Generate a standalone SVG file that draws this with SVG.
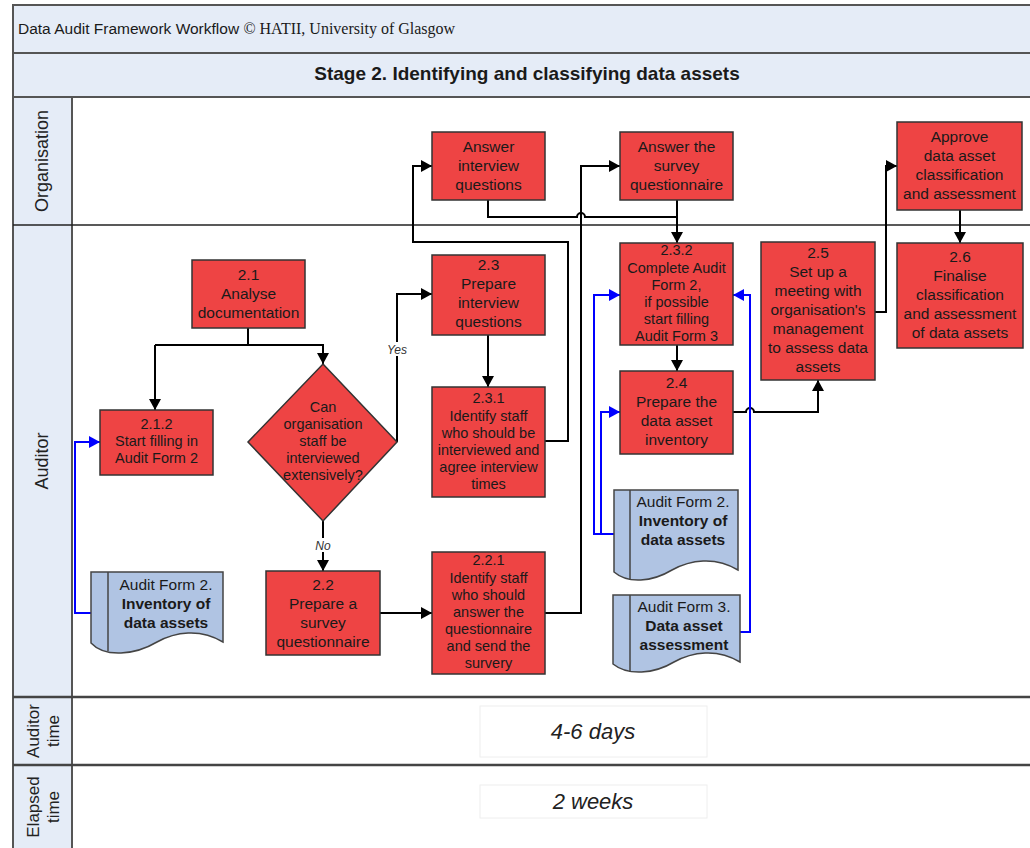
<svg xmlns="http://www.w3.org/2000/svg" width="1030" height="848" viewBox="0 0 1030 848">
<style>
.band{fill:#e5ecf7;stroke:#555;stroke-width:2}
.sep{stroke:#222;stroke-width:1.6;fill:none}
.sepd{stroke:#444;stroke-width:2.4;fill:none}
.n rect,.n polygon{fill:#ee4444;stroke:#333;stroke-width:1.5}
.d path{fill:#b0c4e3;stroke:#444;stroke-width:1.5}
.d line{stroke:#444;stroke-width:1.5}
text{font-family:"Liberation Sans",Arial,sans-serif;fill:#1a1a1a}
.t{font-size:15.5px;text-anchor:middle}
.s{font-size:14.5px;text-anchor:middle}
.b{font-weight:bold}
.c{fill:none;stroke:#000;stroke-width:2;marker-end:url(#ah)}
.cn{fill:none;stroke:#000;stroke-width:2}
.cb{fill:none;stroke:#0000ff;stroke-width:2;marker-end:url(#ab)}
.lbl{font-size:18px;text-anchor:middle;fill:#222}
.yn{font-size:12px;font-style:italic;text-anchor:middle;fill:#333}
.tm{font-size:22px;font-style:italic;text-anchor:middle;fill:#222}
</style>
<defs>
<marker id="ah" markerUnits="userSpaceOnUse" markerWidth="12" markerHeight="12" refX="11" refY="6" orient="auto"><path d="M0,0 L11,6 L0,12 z" fill="#000"/></marker>
<marker id="ab" markerUnits="userSpaceOnUse" markerWidth="12" markerHeight="12" refX="11" refY="6" orient="auto"><path d="M0,0 L11,6 L0,12 z" fill="#0000ff"/></marker>
</defs>
<rect width="1030" height="848" fill="#fff"/>
<!-- header bands -->
<rect class="band" x="13" y="5" width="1030" height="48"/>
<rect class="band" x="13" y="53" width="1030" height="44"/>
<text x="18" y="34" style="font-size:15.5px">Data Audit Framework Workflow <tspan style="font-family:'Liberation Serif','Times New Roman',serif;font-size:16px">© HATII, University of Glasgow</tspan></text>
<text x="527" y="80" class="b" style="font-size:19px;text-anchor:middle">Stage 2. Identifying and classifying data assets</text>
<!-- lane label column -->
<rect x="13" y="97" width="59" height="760" fill="#e5ecf7" stroke="#555" stroke-width="2"/>
<line class="sep" x1="13" y1="225" x2="1030" y2="225"/>
<line class="sepd" x1="13" y1="697" x2="1030" y2="697"/>
<line class="sepd" x1="13" y1="765" x2="1030" y2="765"/>
<text class="lbl" transform="translate(48,161) rotate(-90)">Organisation</text>
<text class="lbl" transform="translate(48,461) rotate(-90)">Auditor</text>
<text class="lbl" transform="translate(39,731) rotate(-90)" style="font-size:17px">Auditor</text>
<text class="lbl" transform="translate(59,731) rotate(-90)" style="font-size:17px">time</text>
<text class="lbl" transform="translate(39,807) rotate(-90)" style="font-size:17px">Elapsed</text>
<text class="lbl" transform="translate(59,807) rotate(-90)" style="font-size:17px">time</text>
<!-- time boxes -->
<g id="auditor-time"><rect x="480" y="706" width="227" height="51" fill="#fff" stroke="#eee"/><text class="tm" x="593" y="739">4-6 days</text></g>
<g id="elapsed-time"><rect x="480" y="785" width="227" height="33" fill="#fff" stroke="#eee"/><text class="tm" x="593" y="809">2 weeks</text></g>
<!-- connectors -->
<g id="connectors">
<path class="cn" d="M248,328 V345 H155"/>
<path class="c" d="M155,345 V410"/>
<path class="c" d="M248,345 H323 V364"/>
<path class="c" d="M397,442 V294 H432"/>
<path class="c" d="M323,521 V571"/>
<path class="c" d="M488,335 V387"/>
<path class="c" d="M545,441 H568 V242 H413 V166 H432"/>
<path class="c" d="M380,613 H432"/>
<path class="c" d="M545,613 H581 V166 H620"/>
<path class="cn" d="M488,200 V217 H577 A4,4 0 0 1 585,217 H677"/>
<path class="c" d="M677,200 V243"/>
<path class="c" d="M677,345 V371"/>
<path class="c" d="M733,412 H746 A4,4 0 0 1 754,412 H818 V380"/>
<path class="c" d="M875,312 H886 V166 H897"/>
<path class="c" d="M960,210 V243"/>
<path class="cb" d="M91,613 H75 V442 H100"/>
<path class="cb" d="M614,534 H594 V295 H620"/>
<path class="cb" d="M601,534 V412 H620"/>
<path class="cb" d="M740,632 H750 V295 H733"/>
<rect x="386" y="342" width="22" height="14" fill="#fff"/>
<text class="yn" x="397" y="354">Yes</text>
<rect x="313" y="538" width="20" height="14" fill="#fff"/>
<text class="yn" x="323" y="550">No</text>
</g>
<!-- nodes -->
<g id="answer-interview" class="n"><rect x="432" y="132" width="113" height="68"/>
<text class="t" x="488.5" y="152">Answer</text><text class="t" x="488.5" y="171">interview</text><text class="t" x="488.5" y="190">questions</text></g>
<g id="answer-survey" class="n"><rect x="620" y="132" width="113" height="68"/>
<text class="t" x="676.5" y="152">Answer the</text><text class="t" x="676.5" y="171">survey</text><text class="t" x="676.5" y="190">questionnaire</text></g>
<g id="approve" class="n"><rect x="897" y="122" width="125" height="88"/>
<text class="t" x="959.5" y="142">Approve</text><text class="t" x="959.5" y="161">data asset</text><text class="t" x="959.5" y="180">classification</text><text class="t" x="959.5" y="199">and assessment</text></g>
<g id="n2-1" class="n"><rect x="192" y="260" width="113" height="68"/>
<text class="t" x="248.5" y="280">2.1</text><text class="t" x="248.5" y="299">Analyse</text><text class="t" x="248.5" y="318">documentation</text></g>
<g id="n2-3" class="n"><rect x="432" y="255" width="113" height="80"/>
<text class="t" x="488.5" y="270">2.3</text><text class="t" x="488.5" y="289">Prepare</text><text class="t" x="488.5" y="308">interview</text><text class="t" x="488.5" y="327">questions</text></g>
<g id="n2-3-2" class="n"><rect x="620" y="243" width="113" height="102"/>
<text class="s" x="676.5" y="255">2.3.2</text><text class="s" x="676.5" y="273">Complete Audit</text><text class="s" x="676.5" y="290">Form 2,</text><text class="s" x="676.5" y="307">if possible</text><text class="s" x="676.5" y="324">start filling</text><text class="s" x="676.5" y="341">Audit Form 3</text></g>
<g id="n2-5" class="n"><rect x="761" y="242" width="114" height="138"/>
<text class="t" x="818" y="258">2.5</text><text class="t" x="818" y="277">Set up a</text><text class="t" x="818" y="296">meeting with</text><text class="t" x="818" y="315">organisation's</text><text class="t" x="818" y="334">management</text><text class="t" x="818" y="353">to assess data</text><text class="t" x="818" y="372">assets</text></g>
<g id="n2-6" class="n"><rect x="897" y="243" width="126" height="105"/>
<text class="t" x="960" y="262">2.6</text><text class="t" x="960" y="281">Finalise</text><text class="t" x="960" y="300">classification</text><text class="t" x="960" y="319">and assessment</text><text class="t" x="960" y="338">of data assets</text></g>
<g id="n2-4" class="n"><rect x="620" y="371" width="113" height="83"/>
<text class="t" x="676.5" y="388">2.4</text><text class="t" x="676.5" y="407">Prepare the</text><text class="t" x="676.5" y="426">data asset</text><text class="t" x="676.5" y="445">inventory</text></g>
<g id="n2-1-2" class="n"><rect x="100" y="410" width="113" height="65"/>
<text class="s" x="156.5" y="429">2.1.2</text><text class="s" x="156.5" y="446">Start filling in</text><text class="s" x="156.5" y="463">Audit Form 2</text></g>
<g id="decision" class="n"><polygon points="323,364 397,442 323,521 248,442"/>
<text class="s" x="323" y="412">Can</text><text class="s" x="323" y="429">organisation</text><text class="s" x="323" y="446">staff be</text><text class="s" x="323" y="463">interviewed</text><text class="s" x="323" y="480">extensively?</text></g>
<g id="n2-3-1" class="n"><rect x="432" y="387" width="113" height="110"/>
<text class="s" x="488.5" y="403">2.3.1</text><text class="s" x="488.5" y="421">Identify staff</text><text class="s" x="488.5" y="438">who should be</text><text class="s" x="488.5" y="455">interviewed and</text><text class="s" x="488.5" y="472">agree interview</text><text class="s" x="488.5" y="489">times</text></g>
<g id="n2-2" class="n"><rect x="266" y="571" width="114" height="84"/>
<text class="t" x="323" y="590">2.2</text><text class="t" x="323" y="609">Prepare a</text><text class="t" x="323" y="628">survey</text><text class="t" x="323" y="647">questionnaire</text></g>
<g id="n2-2-1" class="n"><rect x="432" y="552" width="113" height="122"/>
<text class="s" x="488.5" y="565">2.2.1</text><text class="s" x="488.5" y="583">Identify staff</text><text class="s" x="488.5" y="600">who should</text><text class="s" x="488.5" y="617">answer the</text><text class="s" x="488.5" y="634">questionnaire</text><text class="s" x="488.5" y="651">and send the</text><text class="s" x="488.5" y="668">survery</text></g>
<!-- documents -->
<g id="doc-form2-left" class="d"><path d="M91,572 H223 V642 C200,628 175,632 157,642 C135,655 105,658 91,643 Z"/><line x1="108" y1="572" x2="108" y2="651"/>
<text class="t" x="166" y="590">Audit Form 2.</text><text class="t b" x="166" y="609">Inventory of</text><text class="t b" x="166" y="628">data assets</text></g>
<g id="doc-form2-mid" class="d"><path d="M614,490 H738 V570 C715,556 690,560 672,570 C652,582 628,584 614,572 Z"/><line x1="630" y1="490" x2="630" y2="580"/>
<text class="t" x="683" y="507">Audit Form 2.</text><text class="t b" x="683" y="526">Inventory of</text><text class="t b" x="683" y="545">data assets</text></g>
<g id="doc-form3" class="d"><path d="M613,595 H740 V662 C717,648 692,652 674,662 C654,674 628,676 613,664 Z"/><line x1="630" y1="595" x2="630" y2="672"/>
<text class="t" x="684" y="612">Audit Form 3.</text><text class="t b" x="684" y="631">Data asset</text><text class="t b" x="684" y="650">assessment</text></g>
</svg>
